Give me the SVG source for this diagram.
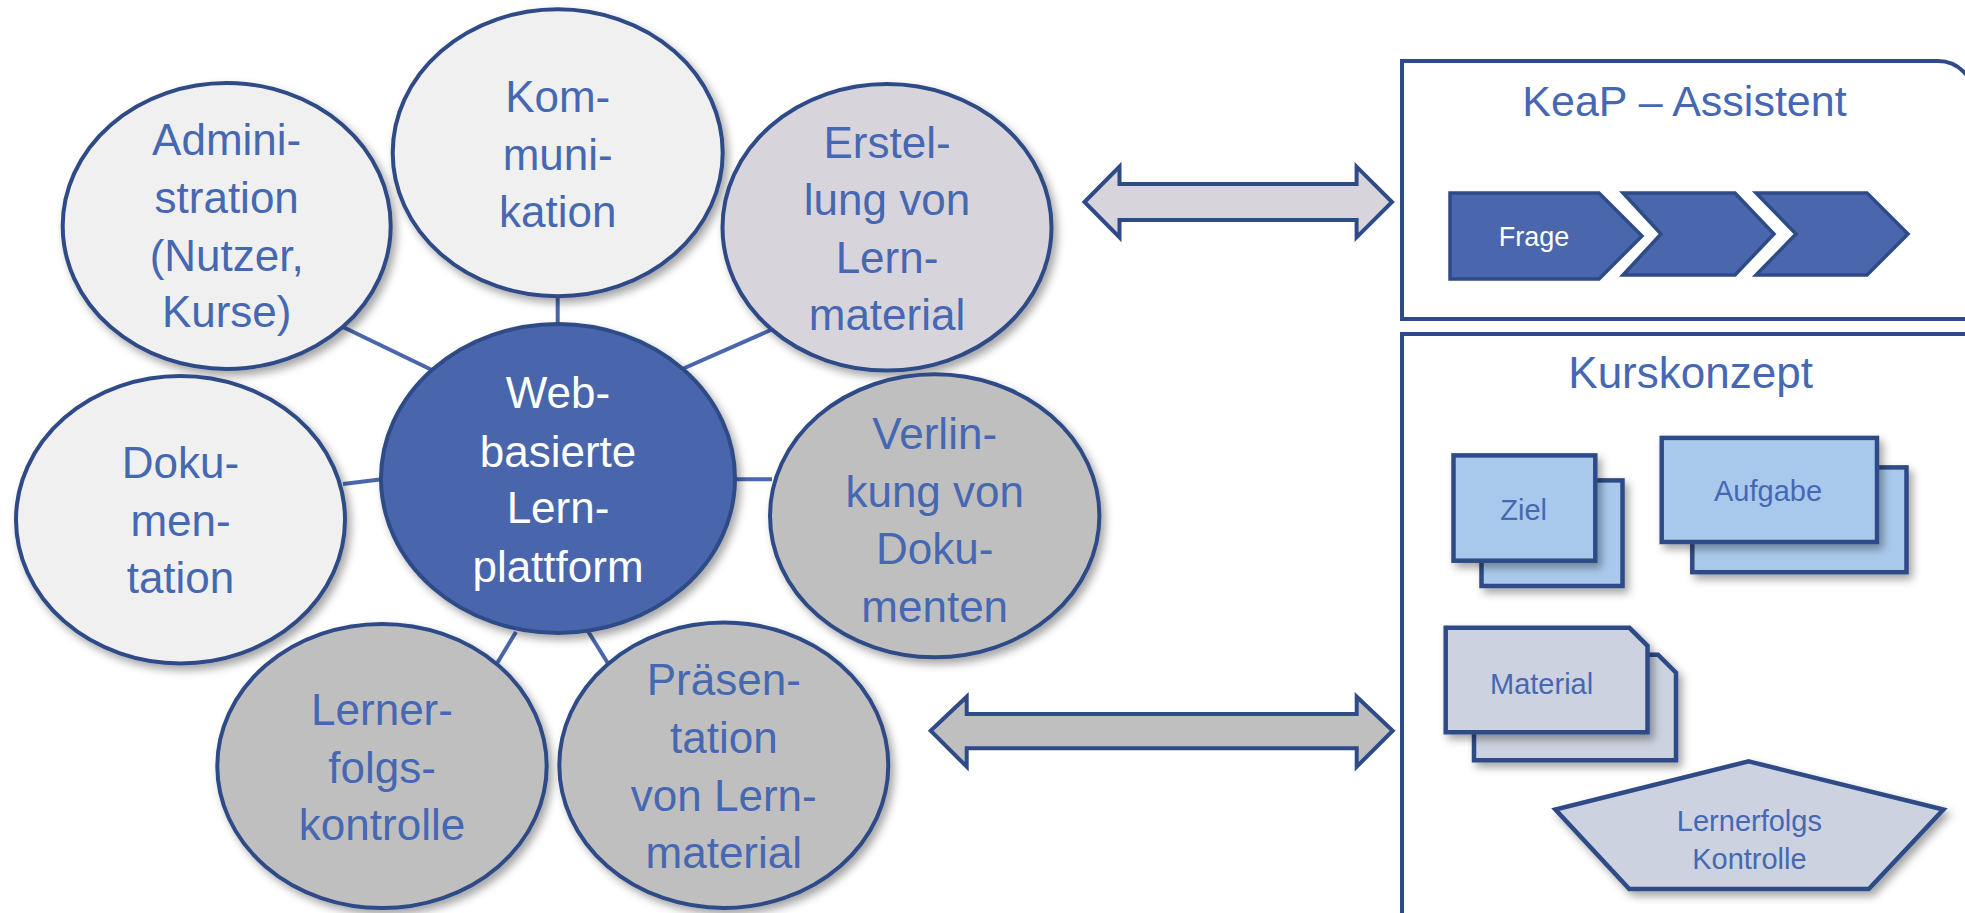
<svg xmlns="http://www.w3.org/2000/svg" width="1965" height="913" viewBox="0 0 1965 913">
<defs>
<filter id="sh" x="-20%" y="-20%" width="150%" height="150%">
<feDropShadow dx="4" dy="5" stdDeviation="4" flood-color="#000" flood-opacity="0.35"/>
</filter>
<style>
.ell{stroke:#2f4b87;stroke-width:4;filter:url(#sh)}
.lt{fill:#f0f0f0}
.lav{fill:#d8d4db}
.gr{fill:#bfbfbf}
.ctr{fill:#4a66ac}
.t{font-family:"Liberation Sans",Arial,sans-serif;font-size:44px;fill:#4668b2;text-anchor:middle}
.tw{fill:#ffffff}
.con{stroke:#4a66ac;stroke-width:4;fill:none}
.arr{stroke:#2f4b87;stroke-width:4;stroke-linejoin:miter}
.panel{fill:#ffffff;stroke:#2f4b87;stroke-width:4}
.chev{fill:#4a66ac;stroke:#2f4b87;stroke-width:3.5}
.box{stroke:#2f4b87;stroke-width:4.5;filter:url(#sh)}
.lb{fill:#a9c9ec}
.gb{fill:#ccd2df}
.s{font-family:"Liberation Sans",Arial,sans-serif;font-size:29px;fill:#4668b2;text-anchor:middle}
</style>
</defs>
<rect width="1965" height="913" fill="#ffffff"/>

<g id="connectors">
<line class="con" x1="343" y1="327" x2="434" y2="371"/>
<line class="con" x1="557.7" y1="294" x2="557.7" y2="326"/>
<line class="con" x1="680" y1="370" x2="773" y2="329"/>
<line class="con" x1="343" y1="484" x2="382" y2="479.3"/>
<line class="con" x1="733" y1="479.3" x2="772" y2="479.3"/>
<line class="con" x1="496" y1="665" x2="516" y2="632"/>
<line class="con" x1="586" y1="628" x2="609" y2="665"/>
<polygon class="arr" fill="#d8d4db" points="1084.5,202 1119.5,166.7 1119.5,184 1356.6,184 1356.6,166.7 1392,202 1356.6,237.3 1356.6,220 1119.5,220 1119.5,237.3"/>
<polygon class="arr" fill="#bfbfbf" points="930.7,730.7 966.7,696.7 966.7,714 1356.7,714 1356.7,696.7 1392.7,730.7 1356.7,766.7 1356.7,748.3 966.7,748.3 966.7,766.7"/>
</g>

<g id="kommunikation">
<ellipse class="ell lt" cx="557.7" cy="152.7" rx="165" ry="143.5"/>
<text class="t" x="557.7" y="112">Kom-</text>
<text class="t" x="557.7" y="169.5">muni-</text>
<text class="t" x="557.7" y="227">kation</text>
</g>

<g id="administration">
<ellipse class="ell lt" cx="226.7" cy="226" rx="164" ry="143"/>
<text class="t" x="226.7" y="155">Admini-</text>
<text class="t" x="226.7" y="212.7">stration</text>
<text class="t" x="226.7" y="270.7">(Nutzer,</text>
<text class="t" x="226.7" y="327">Kurse)</text>
</g>

<g id="erstellung">
<ellipse class="ell lav" cx="887" cy="227.3" rx="164.5" ry="143.3"/>
<text class="t" x="887" y="158.3">Erstel-</text>
<text class="t" x="887" y="215">lung von</text>
<text class="t" x="887" y="272.7">Lern-</text>
<text class="t" x="887" y="330">material</text>
</g>

<g id="dokumentation">
<ellipse class="ell lt" cx="180.5" cy="519.7" rx="164.5" ry="143.7"/>
<text class="t" x="180.5" y="478.3">Doku-</text>
<text class="t" x="180.5" y="535.7">men-</text>
<text class="t" x="180.5" y="593.3">tation</text>
</g>

<g id="verlinkung">
<ellipse class="ell gr" cx="934.7" cy="515.8" rx="164.7" ry="141.5"/>
<text class="t" x="934.7" y="449.3">Verlin-</text>
<text class="t" x="934.7" y="506.7">kung von</text>
<text class="t" x="934.7" y="564">Doku-</text>
<text class="t" x="934.7" y="621.7">menten</text>
</g>

<g id="lernplattform">
<ellipse class="ell ctr" cx="558" cy="478.5" rx="177" ry="154.5"/>
<text class="t tw" x="558" y="408">Web-</text>
<text class="t tw" x="558" y="466.7">basierte</text>
<text class="t tw" x="558" y="523">Lern-</text>
<text class="t tw" x="558" y="581.7">plattform</text>
</g>

<g id="lernerfolgskontrolle">
<ellipse class="ell gr" cx="382" cy="766" rx="164.7" ry="142"/>
<text class="t" x="382" y="725">Lerner-</text>
<text class="t" x="382" y="782.7">folgs-</text>
<text class="t" x="382" y="840">kontrolle</text>
</g>

<g id="praesentation">
<ellipse class="ell gr" cx="723.8" cy="765.3" rx="164.5" ry="142.7"/>
<text class="t" x="723.8" y="695">Präsen-</text>
<text class="t" x="723.8" y="753.3">tation</text>
<text class="t" x="723.8" y="810.7">von Lern-</text>
<text class="t" x="723.8" y="868.3">material</text>
</g>

<g id="keap-assistent">
<path class="panel" d="M1402,61 H1938 A36,36 0 0 1 1974,97 V319 H1402 Z"/>
<text class="t" x="1684.5" y="116" font-size="43" style="font-size:43px">KeaP – Assistent</text>
<polygon class="chev" points="1450,193 1599,193 1642,236 1599,279 1450,279"/>
<polygon class="chev" points="1623,193 1735,193 1774,234 1735,275 1623,275 1661,234"/>
<polygon class="chev" points="1756,193 1867,193 1908,234 1867,275 1756,275 1796,234"/>
<text class="s" x="1534" y="246" style="font-size:27px;fill:#ffffff">Frage</text>
</g>

<g id="kurskonzept">
<rect class="panel" x="1402" y="334" width="620" height="620"/>
<text class="t" x="1690.6" y="388.3">Kurskonzept</text>
</g>

<g id="ziel">
<rect class="box lb" x="1481.5" y="480.4" width="141" height="105.6"/>
<rect class="box lb" x="1453.5" y="455.4" width="141.8" height="105.3"/>
<text class="s" x="1523.7" y="519.6">Ziel</text>
</g>

<g id="aufgabe">
<rect class="box lb" x="1692.3" y="467.4" width="214.2" height="104.8"/>
<rect class="box lb" x="1661.7" y="437.9" width="215.3" height="104.1"/>
<text class="s" x="1768" y="501">Aufgabe</text>
</g>

<g id="material">
<path class="box gb" d="M1474,654.7 H1658 L1676,672.7 V760.3 H1474 Z"/>
<path class="box gb" d="M1445.7,627.8 H1629.5 L1647.5,645.8 V732.3 H1445.7 Z"/>
<text class="s" x="1541.6" y="694.3">Material</text>
</g>

<g id="lernerfolgs-kontrolle">
<polygon class="box gb" points="1748.7,761.4 1943.4,809.6 1868.8,889 1629.3,889 1555.4,809.6"/>
<text class="s" x="1749.4" y="831.2">Lernerfolgs</text>
<text class="s" x="1749.4" y="868.5">Kontrolle</text>
</g>
</svg>
